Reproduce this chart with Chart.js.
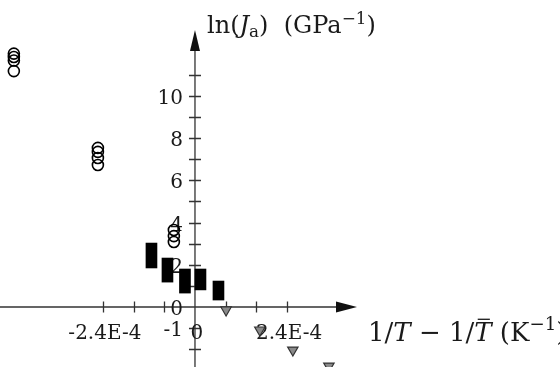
<!DOCTYPE html>
<html>
<head>
<meta charset="utf-8">
<script src="https://cdn.jsdelivr.net/npm/chart.js@4"></script>
<style>
  html, body { margin: 0; padding: 0; background: #fff; }
  #wrap { width: 560px; height: 367px; position: relative; }
</style>
</head>
<body>
<div id="wrap"><canvas id="plot"></canvas></div>
<script>
// ln(Ja) against 1/T - 1/Tbar, three sample groups

// open circles
const circleX = [-4.72e-4, -4.72e-4, -4.72e-4, -4.72e-4,
                 -2.53e-4, -2.53e-4, -2.53e-4, -2.53e-4,
                 -5.5e-5, -5.5e-5, -5.5e-5];
const circleY = [12.01, 11.85, 11.68, 11.18,
                 7.54, 7.35, 7.06, 6.73,
                 3.65, 3.36, 3.08];

// filled blocks (low..high range)
const rectX    = [-1.134e-4, -7.17e-5, -2.61e-5, 1.43e-5, 6.12e-5];
const rectLow  = [1.85, 1.18, 0.66, 0.81, 0.33];
const rectHigh = [3.03, 2.32, 1.80, 1.80, 1.23];

// grey down triangles
const triX = [8.1e-5, 1.69e-4, 2.55e-4, 3.49e-4];
const triY = [-0.14, -1.09, -2.04, -2.80];

// axes
const xMin = -5.081e-4, xMax = 9.512e-4;
const yMin = -2.844, yMax = 14.55;
const xTickMarks = [-2.4e-4, -1.6e-4, -0.8e-4, 0.8e-4, 1.6e-4, 2.4e-4];
const yTickMarks = [-2, -1, 1, 2, 3, 4, 5, 6, 7, 8, 9, 10, 11];
const xLabelVals = [-2.4e-4, 0, 2.4e-4];
const xLabelText = ['-2.4E-4', '0', '2.4E-4'];
const yLabelVals = [10, 8, 6, 4, 2, 0, -1];
const yLabelText = ['10', '8', '6', '4', '2', '0', '-1'];

const FONT = '"DejaVu Serif", "Liberation Serif", serif';
const INK = '#1a1a1a';

function drawRuns(ctx, x, y, runs, size) {
  runs.forEach(r => {
    const s = size * (r.scale || 1);
    ctx.font = (r.italic ? 'italic ' : '') + s + 'px ' + FONT;
    const w = ctx.measureText(r.t).width;
    ctx.fillText(r.t, x, y + (r.dy || 0));
    if (r.bar) {
      ctx.fillRect(x + w * 0.2, y - s * 0.86, w * 0.7, 1.3);
    }
    x += w;
  });
}

const axesPlugin = {
  id: 'crossAxes',
  beforeDatasetsDraw(chart) {
    const { ctx, scales: { x, y } } = chart;
    const ox = x.getPixelForValue(0);
    const oy = y.getPixelForValue(0);
    ctx.save();
    ctx.strokeStyle = '#333';
    ctx.fillStyle = '#111';
    ctx.lineWidth = 1.3;

    // axis lines
    ctx.beginPath();
    ctx.moveTo(0, oy); ctx.lineTo(340, oy);
    ctx.moveTo(ox, chart.height); ctx.lineTo(ox, 48);
    ctx.stroke();

    // arrow heads
    ctx.beginPath();
    ctx.moveTo(357, oy); ctx.lineTo(336, oy - 5.5); ctx.lineTo(336, oy + 5.5); ctx.closePath();
    ctx.fill();
    ctx.beginPath();
    ctx.moveTo(ox, 30); ctx.lineTo(ox - 5, 51); ctx.lineTo(ox + 5, 51); ctx.closePath();
    ctx.fill();

    // tick marks
    ctx.beginPath();
    xTickMarks.forEach(v => {
      const px = Math.round(x.getPixelForValue(v)) + 0.5;
      ctx.moveTo(px, oy - 5.5); ctx.lineTo(px, oy + 5.5);
    });
    yTickMarks.forEach(v => {
      const py = Math.round(y.getPixelForValue(v)) + 0.5;
      ctx.moveTo(ox - 6, py); ctx.lineTo(ox + 6, py);
    });
    ctx.stroke();

    // tick labels
    ctx.fillStyle = INK;
    ctx.font = '20px ' + FONT;
    ctx.textBaseline = 'alphabetic';
    ctx.textAlign = 'center';
    xLabelVals.forEach((v, i) => {
      ctx.fillText(xLabelText[i], x.getPixelForValue(v) + 2, 339);
    });
    ctx.textAlign = 'right';
    yLabelVals.forEach((v, i) => {
      ctx.fillText(yLabelText[i], ox - 12, y.getPixelForValue(v) + 8);
    });

    // axis titles
    ctx.textAlign = 'left';
    drawRuns(ctx, 207, 33, [
      { t: 'ln(' }, { t: 'J', italic: true }, { t: 'a', scale: 0.7, dy: 4 },
      { t: ')  (GPa' }, { t: '\u22121', scale: 0.7, dy: -9 }, { t: ')' }
    ], 24);
    drawRuns(ctx, 368, 341, [
      { t: '1/' }, { t: 'T', italic: true }, { t: ' \u2212 1/' },
      { t: 'T', italic: true, bar: true }, { t: ' (K' },
      { t: '\u22121', scale: 0.7, dy: -11 }, { t: ')' }
    ], 26);
    ctx.restore();
  }
};

new Chart(document.getElementById('plot'), {
  type: 'scatter',
  data: {
    datasets: [
      {
        type: 'bar',
        data: rectX.map((v, i) => ({ x: v, y: [rectLow[i], rectHigh[i]] })),
        backgroundColor: '#000',
        borderWidth: 0,
        barThickness: 11,
        order: 2
      },
      {
        data: circleX.map((v, i) => ({ x: v, y: circleY[i] })),
        pointStyle: 'circle',
        pointRadius: 5.5,
        pointBackgroundColor: 'rgba(255,255,255,0)',
        pointBorderColor: '#000',
        pointBorderWidth: 1.6,
        order: 1
      },
      {
        data: triX.map((v, i) => ({ x: v, y: triY[i] })),
        pointStyle: 'triangle',
        rotation: 180,
        pointRadius: 6,
        pointBackgroundColor: '#8a8a8a',
        pointBorderColor: '#333',
        pointBorderWidth: 1.2,
        order: 0
      }
    ]
  },
  options: {
    responsive: true,
    maintainAspectRatio: false,
    animation: false,
    layout: { padding: 0, autoPadding: false },
    plugins: { legend: { display: false }, tooltip: { enabled: false } },
    scales: {
      x: { type: 'linear', display: false, min: xMin, max: xMax, offset: false },
      y: { type: 'linear', display: false, min: yMin, max: yMax }
    }
  },
  plugins: [axesPlugin]
});
</script>
</body>
</html>
